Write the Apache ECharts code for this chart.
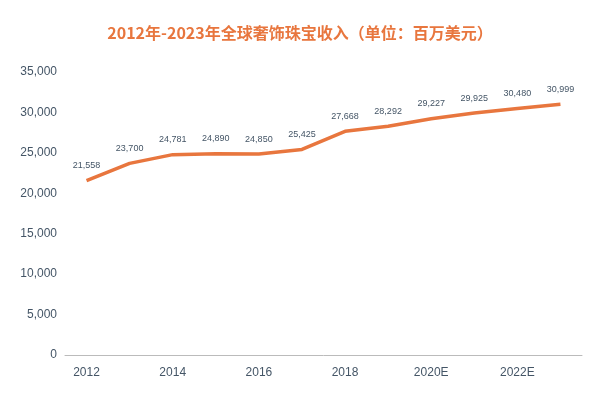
<!DOCTYPE html>
<html><head><meta charset="utf-8">
<script src="https://cdn.jsdelivr.net/npm/echarts@6/dist/echarts.min.js"></script>
<style>html,body{margin:0;padding:0;background:#fff}#c{width:600px;height:400px}</style>
</head><body><div id="c"></div>
<script>
const categories=['2012','2013','2014','2015','2016','2017','2018','2019','2020E','2021E','2022E','2023E'];
const values=[21558,23700,24781,24890,24850,25425,27668,28292,29227,29925,30480,30999];
const chart=echarts.init(document.getElementById('c'));
chart.setOption({
  animation:false,
  title:{text:'2012年-2023年全球奢饰珠宝收入（单位：百万美元）',left:'center',top:20,
    textStyle:{color:'#e8763e',fontSize:16,fontWeight:'bold',fontFamily:'Noto Sans CJK SC'}},
  grid:{left:65,right:18,top:72,bottom:45},
  xAxis:{type:'category',data:categories,boundaryGap:true,
    axisLine:{lineStyle:{color:'#bbb'}},axisTick:{show:false},
    axisLabel:{color:'#445566',fontSize:12,margin:12}},
  yAxis:{type:'value',min:0,max:35000,interval:5000,
    splitLine:{show:false},axisLine:{show:false},axisTick:{show:false},
    axisLabel:{color:'#445566',fontSize:12,formatter:v=>v.toLocaleString('en-US')}},
  series:[{type:'line',data:values,symbol:'circle',symbolSize:1,showSymbol:true,
    itemStyle:{color:'#e8763e',opacity:0},
    lineStyle:{color:'#e8763e',width:3.5},
    label:{show:true,position:'top',distance:10,color:'#445566',fontSize:9,opacity:1,
      formatter:p=>p.value.toLocaleString('en-US')}}]
});
</script></body></html>
